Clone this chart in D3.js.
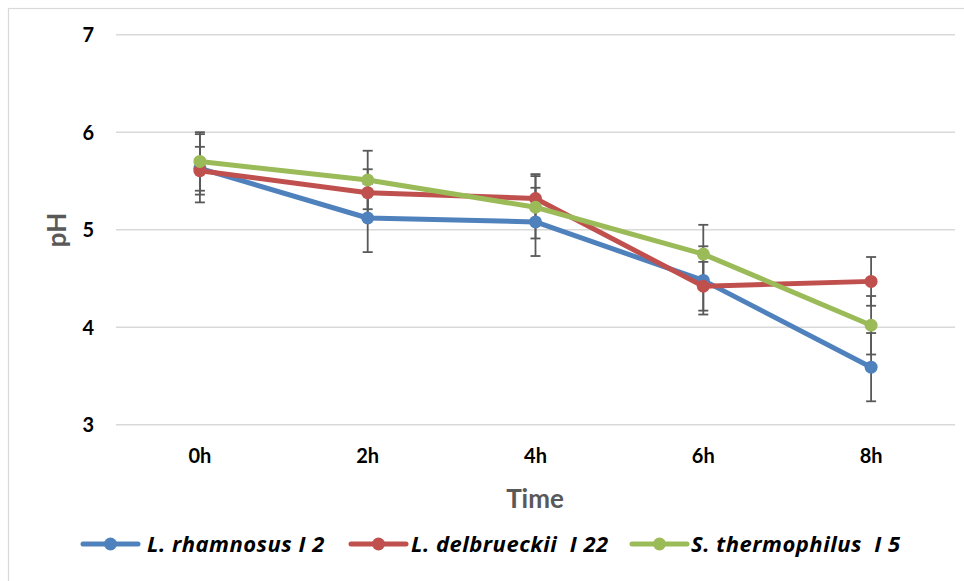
<!DOCTYPE html>
<html>
<head>
<meta charset="utf-8">
<script src="https://cdn.jsdelivr.net/npm/d3@7"></script>
<style>
  body { margin: 0; background: #fff; }
  svg { display: block; font-family: Lato, "Open Sans", sans-serif; }
</style>
</head>
<body>
<svg id="chart" width="964" height="581"></svg>
<script>
// categories and readings
var times = ["0h", "2h", "4h", "6h", "8h"];
var yTicks = [3, 4, 5, 6, 7];

var seriesNames = ["L. rhamnosus I 2", "L. delbrueckii  I 22", "S. thermophilus  I 5"];
var seriesColors = ["#4F81BD", "#C0504D", "#9BBB59"];

var rhamnosus = [5.63, 5.12, 5.08, 4.48, 3.59];
var delbrueckii = [5.605, 5.38, 5.32, 4.42, 4.47];
var thermophilus = [5.70, 5.51, 5.23, 4.75, 4.02];

var rhamnosusErr = [0.35, 0.35, 0.35, 0.35, 0.35];
var delbrueckiiErr = [0.245, 0.24, 0.25, 0.25, 0.25];
var thermophilusErr = [0.30, 0.30, 0.32, 0.30, 0.30];

var values = [rhamnosus, delbrueckii, thermophilus];
var errors = [rhamnosusErr, delbrueckiiErr, thermophilusErr];

var svg = d3.select("#chart");

var plot = { left: 116, right: 955, top: 34.7, bottom: 424.7 };

var x = d3.scaleBand()
    .domain(times)
    .range([plot.left, plot.right]);

var y = d3.scaleLinear()
    .domain([3, 7])
    .range([plot.bottom, plot.top]);

function cx(t) { return x(t) + x.bandwidth() / 2; }

// outer chart border
svg.append("rect")
    .attr("x", 8.5).attr("y", 8.5)
    .attr("width", 1000).attr("height", 1000)
    .attr("fill", "none")
    .attr("stroke", "#D9D9D9")
    .attr("stroke-width", 1.2);

// gridlines
svg.append("g")
    .attr("class", "grid")
    .selectAll("line")
    .data(yTicks)
    .enter()
    .append("line")
    .attr("x1", plot.left).attr("x2", plot.right)
    .attr("y1", function(d) { return y(d); })
    .attr("y2", function(d) { return y(d); })
    .attr("stroke", "#D9D9D9")
    .attr("stroke-width", 1.5);

// y axis labels
var yAxis = d3.axisLeft(y).tickValues(yTicks).tickFormat(d3.format("d")).tickSize(0).tickPadding(0);
var yg = svg.append("g")
    .attr("transform", "translate(94,0)")
    .call(yAxis);
yg.select(".domain").remove();
yg.selectAll("text")
    .attr("font-family", "Lato, sans-serif")
    .attr("font-size", 20)
    .attr("font-weight", "bold")
    .attr("fill", "#000")
    .attr("dy", "0.35em");

// x axis labels
var xAxis = d3.axisBottom(x).tickSize(0).tickPadding(0);
var xg = svg.append("g")
    .attr("transform", "translate(0,456)")
    .call(xAxis);
xg.select(".domain").remove();
xg.selectAll("text")
    .attr("font-family", "Lato, sans-serif")
    .attr("font-size", 20)
    .attr("font-weight", "bold")
    .attr("fill", "#000")
    .attr("dy", "0.35em");

// axis titles
svg.append("text")
    .attr("x", 535).attr("y", 508)
    .attr("text-anchor", "middle")
    .attr("font-size", 26)
    .attr("font-weight", "bold")
    .attr("fill", "#595959")
    .text("Time");

svg.append("text")
    .attr("transform", "translate(66,230) rotate(-90)")
    .attr("text-anchor", "middle")
    .attr("font-size", 26)
    .attr("font-weight", "bold")
    .attr("fill", "#595959")
    .text("pH");

// error bars
var capHalf = 5;
values.forEach(function(vals, s) {
    var eg = svg.append("g").attr("class", "err");
    times.forEach(function(t, i) {
        var hi = y(vals[i] + errors[s][i]);
        var lo = y(vals[i] - errors[s][i]);
        eg.append("line")
            .attr("x1", cx(t)).attr("x2", cx(t))
            .attr("y1", hi).attr("y2", lo)
            .attr("stroke", "#595959").attr("stroke-width", 1.8);
        [hi, lo].forEach(function(yy) {
            eg.append("line")
                .attr("x1", cx(t) - capHalf).attr("x2", cx(t) + capHalf)
                .attr("y1", yy).attr("y2", yy)
                .attr("stroke", "#595959").attr("stroke-width", 1.8);
        });
    });
});

// lines and markers
var line = d3.line()
    .x(function(d, i) { return cx(times[i]); })
    .y(function(d) { return y(d); });

values.forEach(function(vals, s) {
    var g = svg.append("g").attr("class", "series");
    g.append("path")
        .datum(vals)
        .attr("d", line)
        .attr("fill", "none")
        .attr("stroke", seriesColors[s])
        .attr("stroke-width", 5)
        .attr("stroke-linejoin", "round");
    g.selectAll("circle")
        .data(vals)
        .enter()
        .append("circle")
        .attr("cx", function(d, i) { return cx(times[i]); })
        .attr("cy", function(d) { return y(d); })
        .attr("r", 6.5)
        .attr("fill", seriesColors[s]);
});

// legend
var legendLineX = [83, 351, 632];
var legendTextX = [147, 411, 691];
var lg = svg.append("g").attr("class", "legend");
seriesNames.forEach(function(name, s) {
    var x0 = legendLineX[s];
    lg.append("line")
        .attr("x1", x0).attr("x2", x0 + 55)
        .attr("y1", 544).attr("y2", 544)
        .attr("stroke", seriesColors[s])
        .attr("stroke-width", 5)
        .attr("stroke-linecap", "round");
    lg.append("circle")
        .attr("cx", x0 + 27.5).attr("cy", 544)
        .attr("r", 6.5)
        .attr("fill", seriesColors[s]);
    lg.append("text")
        .attr("x", legendTextX[s]).attr("y", 544)
        .attr("dy", "0.36em")
        .attr("font-family", "'Open Sans', sans-serif")
        .attr("font-size", 22)
        .attr("font-weight", "bold")
        .attr("font-style", "italic")
        .attr("letter-spacing", 0.5)
        .attr("fill", "#000")
        .attr("xml:space", "preserve")
        .style("white-space", "pre")
        .text(name);
});
</script>
</body>
</html>
